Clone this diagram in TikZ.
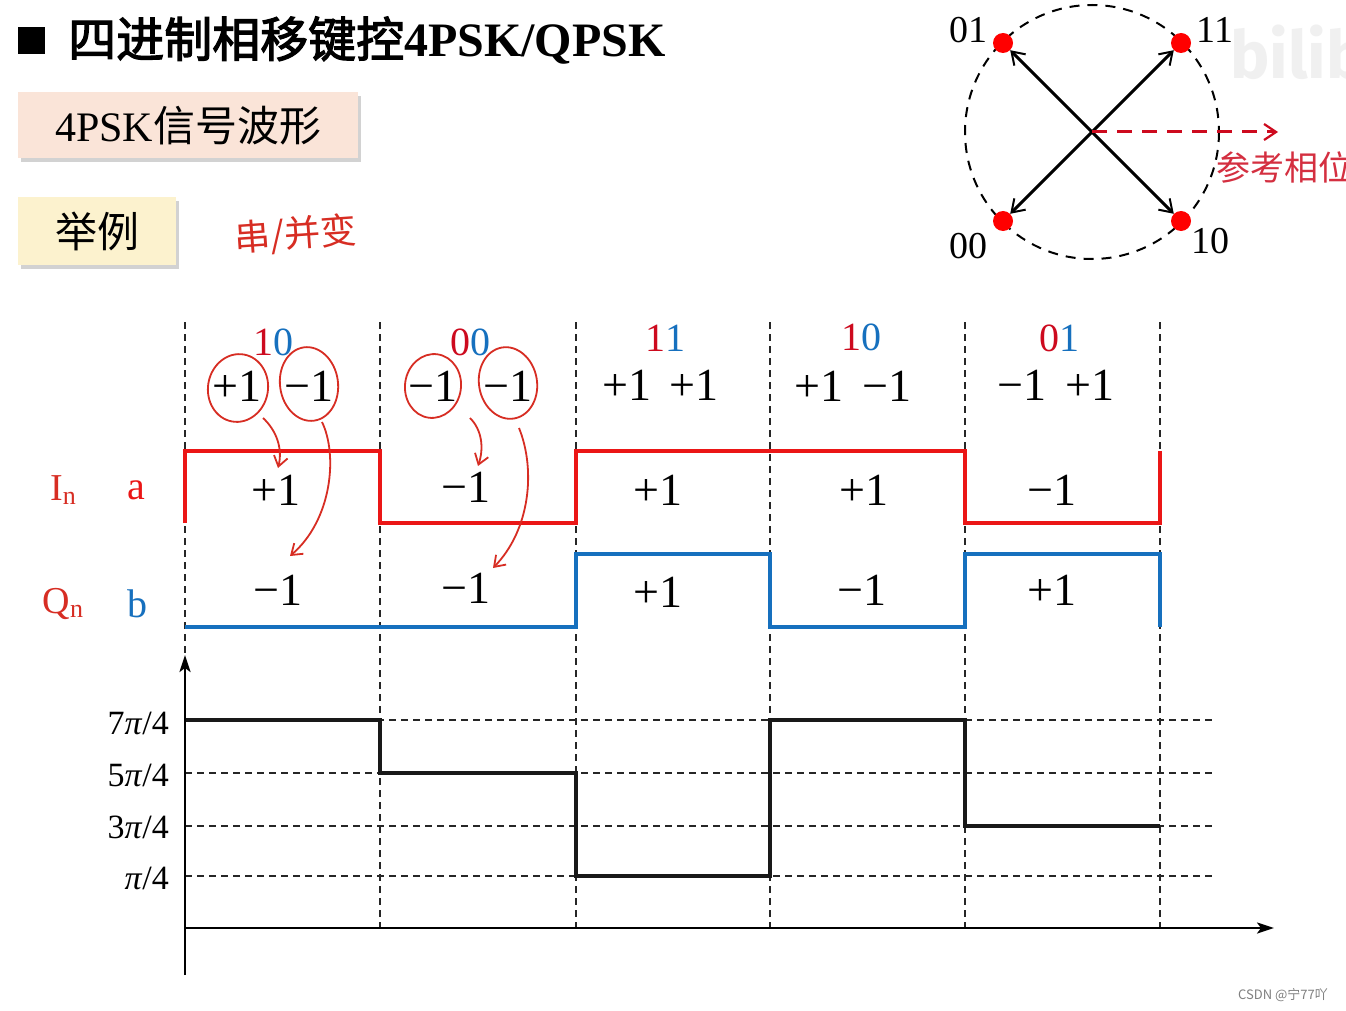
\documentclass[tikz,border=0pt]{standalone}
\usepackage{fontspec}
\setmainfont{Liberation Serif}
\newfontfamily\cjk[AutoFakeBold=2.5]{Noto Sans CJK SC}
\newfontfamily\wmfont{Fira Sans}
\usetikzlibrary{arrows.meta,shadows,calc}
\definecolor{sred}{RGB}{235,22,22}
\definecolor{sblue}{RGB}{22,112,190}
\definecolor{cred}{RGB}{205,10,30}
\definecolor{pinkbox}{RGB}{250,228,216}
\definecolor{yelbox}{RGB}{252,242,206}
\definecolor{hand}{RGB}{215,45,35}
\newcommand\fs[1]{\fontsize{#1}{#1}\selectfont}
\newcommand\piup{\textit{π}}
\begin{document}
\begin{tikzpicture}[x=1pt,y=-1pt,
  lbl/.style={inner sep=0pt},
  sbox/.style={draw=none, inner sep=0pt, drop shadow={opacity=0.35, shadow xshift=3pt, shadow yshift=-4pt}},
  grid/.style={line width=1.3pt, dash pattern=on 7pt off 5pt, black!85},
  sigred/.style={line width=4pt, sred, line join=miter},
  sigblue/.style={line width=4pt, sblue, line join=miter},
  phase/.style={line width=3.5pt, black!90, line join=miter},
  axis/.style={line width=2.4pt, black, -{Stealth[length=17pt,width=11pt,inset=4pt]}},
  vec/.style={line width=3pt, black, -{Straight Barb[length=12pt,width=16pt,line width=2pt]}},
  dot/.style={circle, fill=red, minimum size=20pt, inner sep=0pt},
  handln/.style={line width=1.8pt, hand},
  handarr/.style={line width=1.8pt, hand, -{Straight Barb[length=10pt,width=14pt,line width=1.8pt]}},
  big/.style={lbl, font=\fs{46}},
  code/.style={lbl, font=\fs{40}},
  ph/.style={lbl, font=\fs{34}, anchor=east}
]
\useasboundingbox (0,0) rectangle (1346,1011);
\clip (0,0) rectangle (1346,1011);
\fill[white] (0,0) rectangle (1346,1011);

% watermark
\node[lbl, anchor=west, text=black!6, font=\wmfont\bfseries\fs{66}] (bili) at (1230,52) {bilibili};

% title
\node[fill=black, minimum size=27pt, inner sep=0pt] (sq) at (31,41) {};
\node[lbl, anchor=base west] (title) at (68,57) {\fs{48}{\cjk\bfseries 四进制相移键控}{\bfseries 4PSK/QPSK}};

% boxes
\node[sbox, fill=pinkbox, minimum width=340pt, minimum height=66pt, anchor=north west] (b1) at (18,92) {\fs{42}4PSK{\cjk 信号波形}};
\node[sbox, fill=yelbox, minimum width=158pt, minimum height=68pt, anchor=north west] (b2) at (18,197) {\fs{42}{\cjk 举例}};
\node[lbl, text=hand, rotate=4, font=\cjk\fs{36}] (hw) at (296,235) {串/并变};

% constellation
\coordinate (c) at (1092,132);
\draw[line width=2pt, dash pattern=on 10pt off 8pt] (c) circle (127);
\node[dot] (d01) at (1003,43) {};
\node[dot] (d11) at (1181,43) {};
\node[dot] (d00) at (1003,221) {};
\node[dot] (d10) at (1181,221) {};
\draw[vec] (c) -- (d01);
\draw[vec] (c) -- (d11);
\draw[vec] (c) -- (d00);
\draw[vec] (c) -- (d10);
\coordinate (refend) at (1278,132);
\draw[line width=3pt, cred, dash pattern=on 15pt off 10pt, -{Straight Barb[length=12pt,width=16pt,line width=2.2pt]}] (c) -- (refend);
\node[lbl, font=\fs{38}] (l01) at (968,30) {01};
\node[lbl, font=\fs{38}] (l11) at (1215,30) {11};
\node[lbl, font=\fs{38}] (l00) at (968,246) {00};
\node[lbl, font=\fs{38}] (l10) at (1210,241) {10};
\node[lbl, anchor=west, text=cred!85, font=\cjk\fs{34}] (refl) at (1216,167) {参考相位};

% dashed verticals
\foreach \x/\n in {185/0,380/1,576/2,770/3,965/4,1160/5}{
  \coordinate (vt\n) at (\x,322);
  \coordinate (vb\n) at (\x,928);
  \draw[grid] (vt\n) -- (vb\n);
}
% phase grid
\foreach \y/\n in {720/a,773/b,826/c,876/d}{
  \coordinate (hl\n) at (185,\y);
  \coordinate (hr\n) at (1212,\y);
  \draw[grid] (hl\n) -- (hr\n);
}

% signals
\draw[sigred] (185,523) -- (185,451) -- (380,451) -- (380,523) -- (576,523) -- (576,451) -- (965,451) -- (965,523) -- (1160,523) -- (1160,451);
\draw[sigblue] (185,627) -- (576,627) -- (576,554) -- (770,554) -- (770,627) -- (965,627) -- (965,554) -- (1160,554) -- (1160,627);
\draw[phase] (185,720) -- (380,720) -- (380,773) -- (576,773) -- (576,876) -- (770,876) -- (770,720) -- (965,720) -- (965,826) -- (1160,826);

% axes
\coordinate (ax0) at (185,975);
\coordinate (ax1) at (185,655);
\coordinate (ay0) at (185,928);
\coordinate (ay1) at (1274,928);
\draw[axis] (ax0) -- (ax1);
\draw[axis] (ay0) -- (ay1);

% phase labels
\node[ph] (p7) at (169,723) {7\piup/4};
\node[ph] (p5) at (169,775) {5\piup/4};
\node[ph] (p3) at (169,827) {3\piup/4};
\node[ph] (p1) at (169,878) {\piup/4};

% code labels
\node[code] (c1) at (273,342) {\textcolor{cred}{1}\textcolor{sblue}{0}};
\node[code] (c2) at (470,342) {\textcolor{cred}{0}\textcolor{sblue}{0}};
\node[code] (c3) at (665,338) {\textcolor{cred}{1}\textcolor{sblue}{1}};
\node[code] (c4) at (861,337) {\textcolor{cred}{1}\textcolor{sblue}{0}};
\node[code] (c5) at (1059,338) {\textcolor{cred}{0}\textcolor{sblue}{1}};

% top value pairs
\node[big] (t1a) at (237,386) {+1};
\node[big] (t1b) at (309,386) {−1};
\node[big] (t2a) at (433,386) {−1};
\node[big] (t2b) at (508,386) {−1};
\node[big] (t3a) at (627,385) {+1};
\node[big] (t3b) at (694,385) {+1};
\node[big] (t4a) at (819,386) {+1};
\node[big] (t4b) at (887,386) {−1};
\node[big] (t5a) at (1022,385) {−1};
\node[big] (t5b) at (1090,385) {+1};

% waveform values
\node[big] (a1) at (276,490) {+1};
\node[big] (a2) at (466,487) {−1};
\node[big] (a3) at (658,490) {+1};
\node[big] (a4) at (864,490) {+1};
\node[big] (a5) at (1052,490) {−1};
\node[big] (b1v) at (278,590) {−1};
\node[big] (b2v) at (466,588) {−1};
\node[big] (b3v) at (658,592) {+1};
\node[big] (b4v) at (862,590) {−1};
\node[big] (b5v) at (1052,590) {+1};

% left labels
\node[lbl, text=hand, font=\fs{38}] (In) at (63,490) {I\raisebox{-4pt}{\fs{26}n}};
\node[lbl, text=sred, font=\fs{40}] (la) at (136,490) {a};
\node[lbl, text=hand, font=\fs{38}] (Qn) at (63,604) {Q\raisebox{-4pt}{\fs{26}n}};
\node[lbl, text=sblue, font=\fs{40}] (lb) at (137,604) {b};

% hand annotations
\draw[handln, rotate around={-10:(238,388)}] (238,388) ellipse [x radius=30, y radius=34];
\draw[handln, rotate around={8:(309,384)}] (309,384) ellipse [x radius=29, y radius=37];
\draw[handln, rotate around={-8:(433,386)}] (433,386) ellipse [x radius=28, y radius=32];
\draw[handln, rotate around={10:(508,383)}] (508,383) ellipse [x radius=29, y radius=36];
\coordinate (h1s) at (263,418); \coordinate (h1e) at (278,468);
\coordinate (h2s) at (322,422); \coordinate (h2e) at (290,556);
\coordinate (h3s) at (470,418); \coordinate (h3e) at (478,466);
\coordinate (h4s) at (519,428); \coordinate (h4e) at (493,568);
\draw[handarr] (h1s) .. controls (276,430) and (283,448) .. (h1e);
\draw[handarr] (h2s) .. controls (338,455) and (332,520) .. (h2e);
\draw[handarr] (h3s) .. controls (482,430) and (484,448) .. (h3e);
\draw[handarr] (h4s) .. controls (536,470) and (530,530) .. (h4e);

% csdn
\node[lbl, text=black!50, font=\cjk\fs{13}] (csdn) at (1283,995) {CSDN @宁77吖};
\end{tikzpicture}
\end{document}
